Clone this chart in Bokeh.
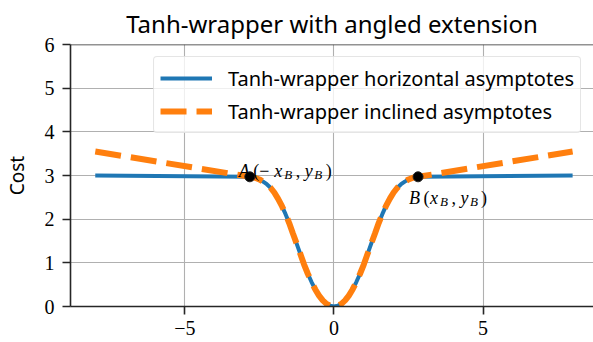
from bokeh.plotting import figure
from bokeh.models import Range1d, Label, Legend, LegendItem, FixedTicker, Span
from bokeh.embed import file_html
from bokeh.resources import INLINE

# ---------------- data ----------------
well_x = [-2.82, -2.65, -2.5, -2.375, -2.25, -2.125, -2.0, -1.875, -1.75, -1.625,
          -1.5, -1.375, -1.25, -1.125, -1.0, -0.875, -0.75, -0.625, -0.5, -0.375,
          -0.25, -0.125, 0.0, 0.125, 0.25, 0.375, 0.5, 0.625, 0.75, 0.875,
          1.0, 1.125, 1.25, 1.375, 1.5, 1.625, 1.75, 1.875, 2.0, 2.125,
          2.25, 2.375, 2.5, 2.65, 2.82]
well_y = [2.97, 2.95, 2.91, 2.86, 2.80, 2.72, 2.61, 2.47, 2.31, 2.12,
          1.91, 1.67, 1.44, 1.20, 0.96, 0.75, 0.56, 0.39, 0.25, 0.14,
          0.06, 0.016, 0.0, 0.016, 0.06, 0.14, 0.25, 0.39, 0.56, 0.75,
          0.96, 1.20, 1.44, 1.67, 1.91, 2.12, 2.31, 2.47, 2.61, 2.72,
          2.80, 2.86, 2.91, 2.95, 2.97]
tail_x = [-8.0, 8.0]
horizontal_tail_y = [3.0, 3.0]
inclined_tail_y = [3.55, 3.55]
point_x = [-2.82, 2.82]
point_y = [2.97, 2.97]

x_ticks = [-5, 0, 5]
x_tick_labels = ["\u22125", "0", "5"]
y_ticks = [0, 1, 2, 3, 4, 5, 6]

series_labels = ["Tanh-wrapper horizontal asymptotes", "Tanh-wrapper inclined asymptotes"]
title_text = "Tanh-wrapper with angled extension"
y_label = "Cost"

# ---------------- build series ----------------
blue_x = [tail_x[0]] + well_x + [tail_x[1]]
blue_y = [horizontal_tail_y[0]] + well_y + [horizontal_tail_y[1]]
orange_x = [tail_x[0]] + well_x + [tail_x[1]]
orange_y = [inclined_tail_y[0]] + well_y + [inclined_tail_y[1]]

SPINE = "#262626"
SANS = "Noto Sans"
SERIF = "Liberation Serif"

p = figure(width=593, height=342,
           x_range=Range1d(-8.83, 8.70), y_range=Range1d(0, 6),
           output_backend="svg", toolbar_location=None,
           min_border_left=67, min_border_right=0,
           min_border_top=43, min_border_bottom=36)
p.outline_line_color = None
p.background_fill_color = "white"
p.border_fill_color = "white"

p.title.text = title_text
p.title.text_font = SANS
p.title.text_font_size = "24px"
p.title.text_font_style = "normal"
p.title.text_color = "black"
p.title.align = "center"
p.title.standoff = 9

for ax in (p.xaxis[0], p.yaxis[0]):
    ax.axis_line_color = SPINE
    ax.axis_line_width = 1.6
    ax.major_tick_line_color = SPINE
    ax.major_tick_line_width = 1.6
    ax.major_tick_out = 8
    ax.major_tick_in = 0
    ax.minor_tick_line_color = None
    ax.major_label_text_font = SERIF
    ax.major_label_text_font_size = "20px"
    ax.major_label_text_color = "black"

p.xaxis.ticker = FixedTicker(ticks=x_ticks)
p.xaxis.major_label_overrides = dict(zip(x_ticks, x_tick_labels))
p.xaxis.major_label_standoff = 6
p.yaxis.ticker = FixedTicker(ticks=y_ticks)
p.yaxis.major_label_standoff = 8
p.yaxis.axis_label = y_label
p.yaxis.axis_label_text_font = SANS
p.yaxis.axis_label_text_font_size = "19px"
p.yaxis.axis_label_text_font_style = "normal"
p.yaxis.axis_label_text_color = "black"
p.yaxis.axis_label_standoff = 12

p.xgrid.ticker = FixedTicker(ticks=x_ticks)
p.ygrid.ticker = FixedTicker(ticks=y_ticks)
for g in (p.xgrid[0], p.ygrid[0]):
    g.grid_line_color = "#b0b0b0"
    g.grid_line_width = 1.1

p.add_layout(Span(location=6, dimension="width", line_color=SPINE, line_width=1.6))

r_blue = p.line(blue_x, blue_y, line_color="#1f77b4", line_width=4)
r_orange = p.line(orange_x, orange_y, line_color="#ff7f0e", line_width=6,
                  line_dash="26 10")
p.scatter(point_x, point_y, size=10, fill_color="black", line_color="#222222")

legend = Legend(items=[LegendItem(label=series_labels[0], renderers=[r_blue]),
                       LegendItem(label=series_labels[1], renderers=[r_orange])],
                location="top_right")
legend.label_text_font = SANS
legend.label_text_font_size = "20px"
legend.label_text_color = "black"
legend.glyph_width = 52
legend.glyph_height = 30
legend.label_height = 30
legend.spacing = 3
legend.padding = 6
legend.label_standoff = 16
legend.margin = 12
legend.border_line_color = "#cccccc"
legend.border_line_width = 1
legend.background_fill_color = "white"
legend.background_fill_alpha = 0.8
try:
    legend.border_radius = 4
except Exception:
    pass
p.add_layout(legend)

# ---------------- point annotations (math-style pieces) ----------------
def add_pieces(px, py, base_dy, pieces):
    for txt, dx, dy, italic, small in pieces:
        p.add_layout(Label(x=px, y=py, x_offset=dx, y_offset=base_dy + dy,
                           text=txt, text_font=SERIF,
                           text_font_style="italic" if italic else "normal",
                           text_font_size="13px" if small else "18px",
                           text_color="black", text_align="left",
                           text_baseline="alphabetic"))

a_pieces = [("A", -11, 0, True, False), ("(", 3.5, 0, False, False),
            ("\u2212", 9.5, 0, False, False), ("x", 24.5, 0, True, False),
            ("B", 34.5, -4, True, True), (",", 46, 0, False, False),
            ("y", 55, 0, True, False), ("B", 64.5, -4, True, True),
            (")", 76, 0, False, False)]
b_pieces = [("B", -9, 0, True, False), ("(", 5.5, 0, False, False),
            ("x", 12, 0, True, False), ("B", 22, -4, True, True),
            (",", 33.5, 0, False, False), ("y", 42.5, 0, True, False),
            ("B", 52, -4, True, True), (")", 63, 0, False, False)]
add_pieces(point_x[0], point_y[0], 6, a_pieces)
add_pieces(point_x[1], point_y[1], -21, b_pieces)

open("out.html", "w").write(file_html(p, INLINE))
